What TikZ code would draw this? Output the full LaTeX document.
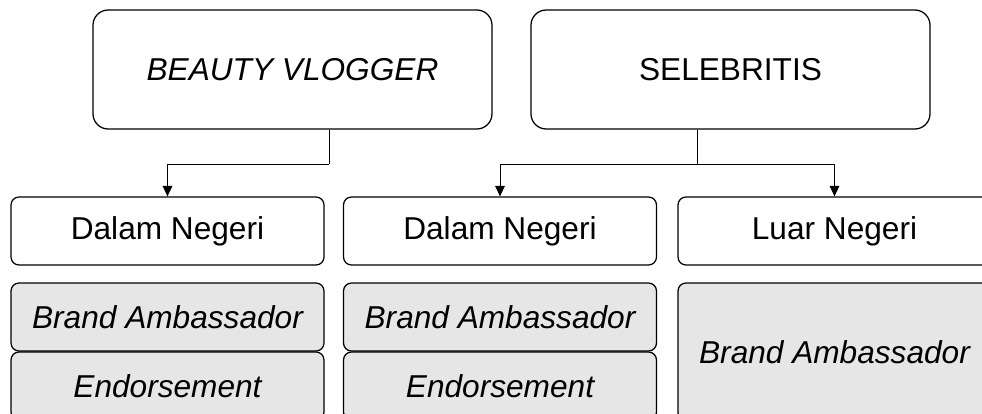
\documentclass[tikz,border=0pt]{standalone}
\usepackage{fontspec}
\setmainfont{Liberation Sans}
\usetikzlibrary{arrows.meta}
\definecolor{boxgray}{HTML}{E6E6E6}

\begin{document}
\begin{tikzpicture}[
  x=1cm, y=1cm,
  every node/.style={inner sep=1pt, font=\fontsize{22.5}{27}\selectfont},
  head/.style={draw, rounded corners=0.38cm, line width=0.9pt,
    minimum width=9.975cm, minimum height=2.975cm},
  group/.style={draw, rounded corners=0.2cm, line width=0.9pt,
    minimum width=7.825cm, minimum height=1.70cm},
  kind/.style={group, fill=boxgray, font=\fontsize{22.5}{27}\selectfont\itshape},
  link/.style={draw, line width=0.6pt, -{Triangle[length=0.26cm, width=0.24cm]}}]

  % the page is cut at the right and at the bottom
  \useasboundingbox (0,0) rectangle (24.55,10.325);
  \clip (0,0) rectangle (24.55,10.325);

  %% ---------------- top row ----------------
  \node[head] (bv) at (7.3125, 8.5875) {\itshape BEAUTY VLOGGER};
  \node[head] (se) at (18.2625, 8.5875) {SELEBRITIS};

  %% ---------------- second row ----------------
  \node[group] (dn1) at (4.1875, 4.55) {Dalam Negeri};
  \node[group] (dn2) at (12.50, 4.55) {Dalam Negeri};
  \node[group] (ln)  at (20.8625, 4.55) {Luar Negeri};

  %% ---------------- third row ----------------
  \node[kind] (ba1) at (4.1875, 2.40) {Brand Ambassador};
  \node[kind] (en1) at (4.1875, 0.675) {Endorsement};
  \node[kind] (ba2) at (12.50, 2.40) {Brand Ambassador};
  \node[kind] (en2) at (12.50, 0.675) {Endorsement};
  \node[kind, minimum height=3.45cm] (ba3) at (20.8625, 1.525) {Brand Ambassador};

  %% ---------------- connectors ----------------
  % branch points
  \coordinate (jBV) at (8.225, 6.225);
  \coordinate (jSE) at (17.425, 6.225);
  \draw[line width=0.6pt] (bv.south -| jBV) -- (jBV);
  \draw[link] (jBV) -| (dn1.north);
  \draw[line width=0.6pt] (se.south -| jSE) -- (jSE);
  \draw[link] (jSE) -| (dn2.north);
  \draw[link] (jSE) -| (ln.north);

\end{tikzpicture}
\end{document}
